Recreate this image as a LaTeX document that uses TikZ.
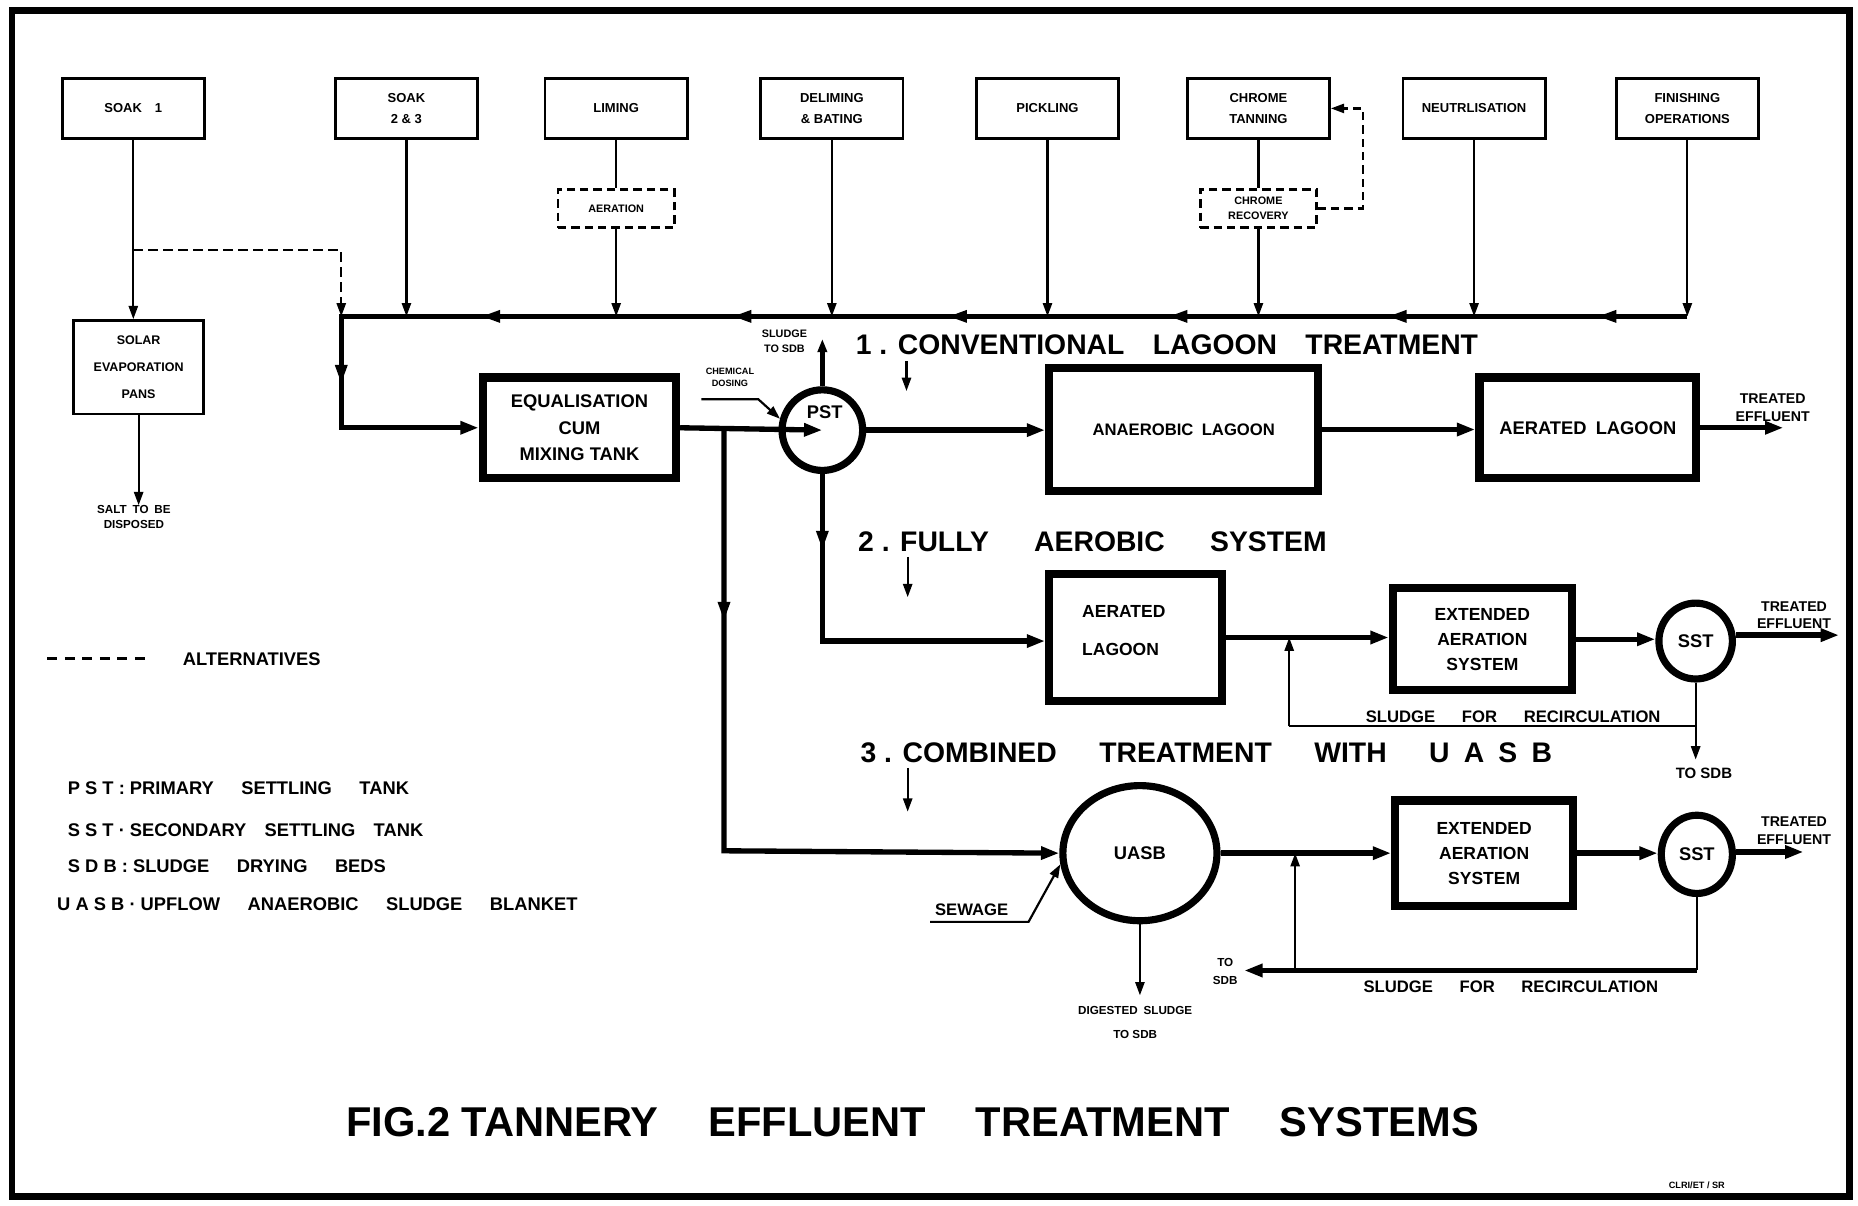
\documentclass[tikz,border=0pt]{standalone}
\usepackage{fontspec}
\setmainfont{Liberation Sans}
\usetikzlibrary{arrows.meta,shapes.geometric}
\newcommand\fsz[2]{\fontsize{#1pt}{#2pt}\selectfont}
\newcommand\marrowL[2]{\fill (#1,#2) ++(-8,0) -- ++(15,-5.5) -- ++(0,11) -- cycle;}
\newcommand\marrowD[2]{\fill (#1,#2) ++(0,8) -- ++(-5.5,-15) -- ++(11,0) -- cycle;}
\begin{document}
\begin{tikzpicture}[x=0.025cm,y=-0.025cm,
  font=\bfseries,
  topbox/.style={draw,line width=1.6pt,minimum width=3.0cm,minimum height=1.275cm,inner sep=0pt,align=center,font=\bfseries\fsz{7.8}{12.5}},
  dbox/.style={draw,dash pattern=on 5pt off 3pt,line width=1.5pt,minimum width=2.45cm,minimum height=0.8cm,inner sep=0pt,align=center,font=\bfseries\fsz{6.5}{9}},
  heavybox/.style={draw,line width=5pt,inner sep=0pt,align=center},
  tank/.style={draw,ellipse,line width=4.3pt,inner sep=0pt},
  thinln/.style={line width=1.3pt},
  flow/.style={line width=3.2pt},
  bigtip/.style={-{Triangle[length=11pt,width=7.5pt]}},
  smalltip/.style={-{Triangle[length=8pt,width=5.5pt]}},
  lbl/.style={font=\bfseries\fsz{7}{9},align=center,inner sep=0pt},
  head/.style={font=\bfseries\fsz{17}{20},inner sep=0pt,anchor=west},
  leg/.style={font=\bfseries\fsz{11}{12},inner sep=0pt,anchor=west},
]
\useasboundingbox (0,0) rectangle (1568,1017);
\draw[line width=4pt] (10,9) rectangle (1561,1010);

% ---------- top row ----------
\node[topbox] (soak1) at (112.5,91.5) {SOAK\quad 1};
\node[topbox] (soak23) at (343,91.5) {SOAK\\2 \& 3};
\node[topbox] (liming) at (520,91.5) {LIMING};
\node[topbox] (delim) at (702,91.5) {DELIMING\\\& BATING};
\node[topbox] (pickl) at (884,91.5) {PICKLING};
\node[topbox] (chrome) at (1062,91.5) {CHROME\\TANNING};
\node[topbox] (neut) at (1244,91.5) {NEUTRLISATION};
\node[topbox] (finish) at (1424,91.5) {FINISHING\\OPERATIONS};

\node[dbox] (aeration) at (520,176) {AERATION};
\node[dbox] (chromerec) at (1062,176) {CHROME\\RECOVERY};

\node[draw,line width=1.6pt,minimum width=2.75cm,minimum height=1.975cm,inner sep=0pt,align=center,font=\bfseries\fsz{7.5}{16}] (solar) at (117,310) {SOLAR\\EVAPORATION\\PANS};
\node[lbl] (salt) at (113,436.5) {SALT\enspace TO\enspace BE\\DISPOSED};

% header collector
\coordinate (hL) at (288,267);
\coordinate (hR) at (1424,267);
\coordinate (d1) at (112.5,211);
\coordinate (d2) at (288,211);

\node[heavybox,minimum width=4.075cm,minimum height=2.125cm,font=\bfseries\fsz{11}{16}] (eq) at (489,361) {EQUALISATION\\CUM\\MIXING TANK};
\node[tank,minimum width=1.7cm,minimum height=1.7cm] (pst) at (694,363) {};
\node[font=\bfseries\fsz{11}{12},inner sep=0pt] (pstlbl) at (696,348) {PST};
\node[heavybox,minimum width=5.675cm,minimum height=2.6cm,font=\bfseries\fsz{10}{12}] (ana) at (999,362.5) {ANAEROBIC\enspace LAGOON};
\node[heavybox,minimum width=4.575cm,minimum height=2.125cm,font=\bfseries\fsz{11}{12}] (aer1) at (1340,361) {AERATED\enspace LAGOON};

\node[heavybox,minimum width=3.65cm,minimum height=2.675cm] (aer2) at (958.5,538) {};
\node[font=\bfseries\fsz{10.5}{22.5},align=left,inner sep=0pt,anchor=west] (aer2lbl) at (913,532) {AERATED\\\hspace*{0pt}LAGOON};
\node[heavybox,minimum width=3.775cm,minimum height=2.15cm,font=\bfseries\fsz{10.5}{15}] (ext1) at (1251,539.5) {EXTENDED\\AERATION\\SYSTEM};
\node[tank,minimum width=1.55cm,minimum height=1.6cm,font=\bfseries\fsz{11}{12}] (sst1) at (1431,541) {SST};

\node[tank,minimum width=3.25cm,minimum height=2.85cm,font=\bfseries\fsz{11}{12}] (uasb) at (962,720) {UASB};
\node[heavybox,minimum width=3.75cm,minimum height=2.225cm,font=\bfseries\fsz{10.5}{15}] (ext2) at (1252.5,720) {EXTENDED\\AERATION\\SYSTEM};
\node[tank,minimum width=1.5cm,minimum height=1.65cm,font=\bfseries\fsz{11}{12}] (sst2) at (1432,721) {SST};

% ---------- top connectors ----------
\draw[thinln,smalltip] (soak1.south) -- (soak1.south |- solar.north);
\draw[thinln,smalltip] (solar.south) -- (solar.south |- salt.north);
\draw[thinln,dash pattern=on 6pt off 3pt,smalltip] (d1) -- (d2) -- (hL);
\draw[thinln,smalltip] (soak23.south) -- (soak23.south |- hL);
\draw[thinln] (liming.south) -- (aeration.north);
\draw[thinln,smalltip] (aeration.south) -- (aeration.south |- hL);
\draw[thinln,smalltip] (delim.south) -- (delim.south |- hL);
\draw[thinln,smalltip] (pickl.south) -- (pickl.south |- hL);
\draw[thinln] (chrome.south) -- (chromerec.north);
\draw[thinln,smalltip] (chromerec.south) -- (chromerec.south |- hL);
\draw[thinln,smalltip] (neut.south) -- (neut.south |- hL);
\draw[thinln,smalltip] (finish.south) -- (finish.south |- hL);
\draw[thinln,dash pattern=on 5pt off 3pt,smalltip] (chromerec.east) -- (1150,176) -- (1150,91.5) -- (chrome.east);

% collector to equalisation
\draw[flow,bigtip] (hR) -- (hL) -- (hL |- eq.west) -- (eq.west);
\foreach \x in {415,627,809,995,1180,1357} {\marrowL{\x}{267}}
\marrowD{288}{315}

% ---------- system 1 ----------
\coordinate (br) at (611,361);
\draw[flow,bigtip] (eq.east) -- (pst.center);
\coordinate (chem0) at (592,337);
\node[font=\bfseries\fsz{5.5}{7},align=center,inner sep=0pt] (chem) at (616,318.5) {CHEMICAL\\DOSING};
\draw[thinln,smalltip] (chem0) -- (640,337) -- (pst.165);
\coordinate (sl1) at (694,286);
\draw[flow,smalltip] (pst.north) -- (sl1);
\node[lbl,font=\bfseries\fsz{6.5}{9.5}] (sl1lbl) at (662,288) {SLUDGE\\TO SDB};
\draw[flow,bigtip] (pst.east) -- (pst.east -| ana.west);
\draw[flow,bigtip] (ana.east) -- (ana.east -| aer1.west);
\coordinate (te1) at (1505,361);
\draw[flow,bigtip] (aer1.east) -- (te1);
\node[lbl,font=\bfseries\fsz{8.5}{11}] (te1lbl) at (1496,344) {TREATED\\EFFLUENT};

\node[head] (h1) at (722,291) {1 . CONVENTIONAL\quad LAGOON\quad TREATMENT};
\coordinate (a1s) at (765,305); \coordinate (a1e) at (765,330);
\draw[thinln,smalltip] (a1s) -- (a1e);

% ---------- system 2 ----------
\coordinate (p2) at (694,541);
\draw[flow,bigtip] (pst.south) -- (p2) -- (p2 -| aer2.west);
\marrowD{694}{455}
\draw[flow,bigtip] (aer2.east) -- (aer2.east -| ext1.west);
\draw[flow,bigtip] (ext1.east) -- (ext1.east -| sst1.west);
\coordinate (te2) at (1552,536);
\draw[flow,bigtip] (sst1.east |- te2) -- (te2);
\node[lbl,font=\bfseries\fsz{8.5}{10.5}] (te2lbl) at (1514,519) {TREATED\\EFFLUENT};
\coordinate (r1) at (1431,613);
\coordinate (r2) at (1088,613);
\coordinate (r4) at (1431,641);
\draw[thinln] (sst1.south) -- (r1) -- (r2);
\draw[thinln,smalltip] (r2) -- (r2 |- aer2.east);
\draw[thinln,smalltip] (r1) -- (r4);
\node[font=\bfseries\fsz{9}{10},inner sep=0pt] (r4lbl) at (1438,653) {TO SDB};
\node[font=\bfseries\fsz{10}{10},inner sep=0pt] (rec1) at (1277,605) {SLUDGE\hspace{1.6em}FOR\hspace{1.6em}RECIRCULATION};

\node[head] (h2) at (724,457) {2 . FULLY\hspace{1.6em}AEROBIC\hspace{1.6em}SYSTEM};
\coordinate (a2s) at (766,470); \coordinate (a2e) at (766,504);
\draw[thinln,smalltip] (a2s) -- (a2e);

% ---------- system 3 ----------
\coordinate (p3) at (611,718);
\draw[flow,bigtip] (br) -- (p3) -- (uasb.west);
\marrowD{611}{515}
\coordinate (sew0) at (785,778);
\coordinate (sew1) at (868,778);
\draw[thinln,smalltip] (sew0) -- (sew1) -- (uasb.188);
\node[font=\bfseries\fsz{10}{11},inner sep=0pt] (sewlbl) at (820,768) {SEWAGE};
\coordinate (dig) at (962,840);
\draw[thinln,smalltip] (uasb.south) -- (dig);
\node[lbl,font=\bfseries\fsz{7}{14}] (diglbl) at (958,863) {DIGESTED\enspace SLUDGE\\TO SDB};
\draw[flow,bigtip] (uasb.east) -- (uasb.east -| ext2.west);
\draw[flow,bigtip] (ext2.east) -- (ext2.east -| sst2.west);
\coordinate (te3) at (1522,719);
\draw[flow,bigtip] (sst2.east |- te3) -- (te3);
\node[lbl,font=\bfseries\fsz{8.5}{10.5}] (te3lbl) at (1514,701) {TREATED\\EFFLUENT};
\coordinate (s1) at (1432,819);
\coordinate (s2) at (1050,819);
\coordinate (s3) at (1093,819);
\draw[thinln] (sst2.south) -- (s1);
\draw[flow,bigtip] (s1) -- (s2);
\draw[thinln,smalltip] (s3) -- (s3 |- uasb.east);
\node[lbl,font=\bfseries\fsz{7}{10.5}] (s2lbl) at (1034,820) {TO\\SDB};
\node[font=\bfseries\fsz{10}{10},inner sep=0pt] (rec2) at (1275,833) {SLUDGE\hspace{1.6em}FOR\hspace{1.6em}RECIRCULATION};

\node[head] (h3) at (726,635) {3 . COMBINED\hspace{1.5em}TREATMENT\hspace{1.5em}WITH\hspace{1.5em}U\enspace A\enspace S\enspace B};
\coordinate (a3s) at (766,648); \coordinate (a3e) at (766,685);
\draw[thinln,smalltip] (a3s) -- (a3e);

% ---------- legend ----------
\coordinate (lg0) at (40,556); \coordinate (lg1) at (128,556);
\draw[line width=1.8pt,dash pattern=on 6pt off 4.5pt] (lg0) -- (lg1);
\node[leg] (alt) at (154,556) {ALTERNATIVES};
\node[leg] (lgpst) at (57,665) {P S T : PRIMARY\hspace{1.5em}SETTLING\hspace{1.5em}TANK};
\node[leg] (lgsst) at (57,701) {S S T · SECONDARY\hspace{1em}SETTLING\hspace{1em}TANK};
\node[leg] (lgsdb) at (57,731) {S D B : SLUDGE\hspace{1.5em}DRYING\hspace{1.5em}BEDS};
\node[leg] (lguasb) at (48,763) {U A S B · UPFLOW\hspace{1.5em}ANAEROBIC\hspace{1.5em}SLUDGE\hspace{1.5em}BLANKET};

% ---------- title ----------
\node[font=\bfseries\fsz{25}{28},inner sep=0pt] (title) at (770,947) {FIG.2 TANNERY\hspace{1.2em}EFFLUENT\hspace{1.2em}TREATMENT\hspace{1.2em}SYSTEMS};
\node[font=\bfseries\fsz{5.5}{6},inner sep=0pt] (ref) at (1432,1000) {CLRI/ET / SR};
\end{tikzpicture}
\end{document}
